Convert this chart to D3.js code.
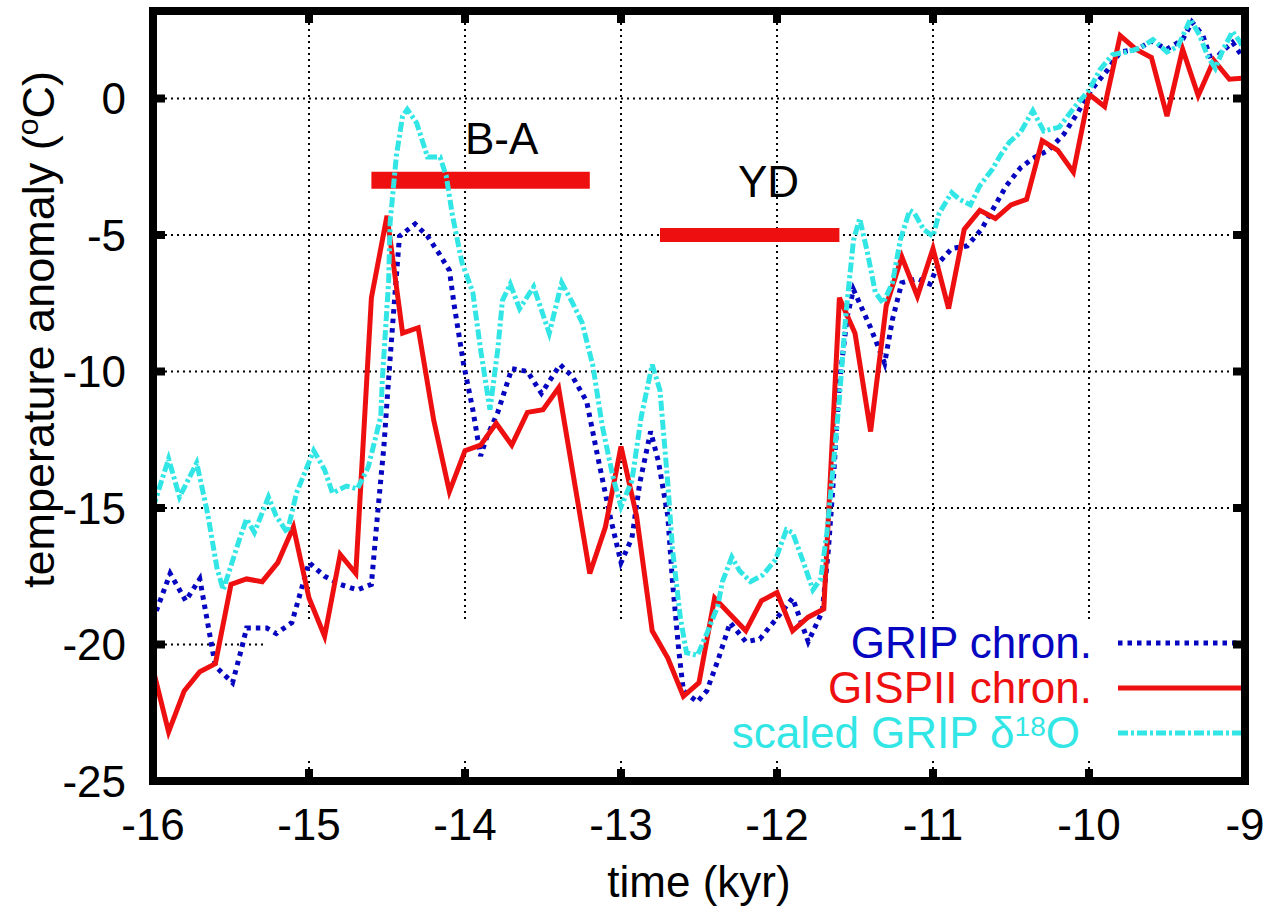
<!DOCTYPE html>
<html>
<head>
<meta charset="utf-8">
<script src="https://cdn.jsdelivr.net/npm/d3@7"></script>
<style>
  body { margin: 0; background: #fff; }
  svg text { font-family: "Liberation Sans", Arial, Helvetica, sans-serif; }
</style>
</head>
<body>
<div id="chart"></div>
<script>
// time in kyr, temperature anomaly in degC
const gispTime = [-16.0, -15.9, -15.8, -15.7, -15.6, -15.5, -15.4, -15.3, -15.2, -15.1, -15.0, -14.9, -14.8, -14.7, -14.6, -14.5, -14.4, -14.3, -14.2, -14.1, -14.0, -13.9, -13.8, -13.7, -13.6, -13.5, -13.4, -13.2, -13.1, -13.0, -12.9, -12.8, -12.7, -12.6, -12.5, -12.4, -12.3, -12.2, -12.1, -12.0, -11.9, -11.8, -11.7, -11.6, -11.5, -11.4, -11.3, -11.2, -11.1, -11.0, -10.9, -10.8, -10.7, -10.6, -10.5, -10.4, -10.3, -10.2, -10.1, -10.0, -9.9, -9.8, -9.7, -9.6, -9.5, -9.4, -9.3, -9.2, -9.1, -9.0];
const gispTemp = [-20.9, -23.2, -21.7, -21.0, -20.7, -17.8, -17.6, -17.7, -17.0, -15.7, -18.3, -19.7, -16.7, -17.4, -7.3, -4.3, -8.6, -8.4, -11.8, -14.4, -12.9, -12.7, -11.9, -12.7, -11.5, -11.4, -10.6, -17.4, -15.7, -12.75, -15.3, -19.5, -20.5, -21.9, -21.4, -18.3, -18.9, -19.5, -18.4, -18.1, -19.5, -19.0, -18.7, -7.3, -8.6, -12.2, -7.6, -5.8, -7.25, -5.5, -7.7, -4.8, -4.1, -4.4, -3.9, -3.7, -1.55, -1.9, -2.7, 0.15, -0.3, 2.3, 1.8, 1.5, -0.65, 1.8, 0.1, 1.4, 0.7, 0.75];

const gripTime = [-16.0, -15.89, -15.79, -15.7, -15.6, -15.49, -15.43, -15.4, -15.27, -15.21, -15.11, -15.0, -14.9, -14.8, -14.69, -14.6, -14.56, -14.52, -14.49, -14.46, -14.42, -14.32, -14.24, -14.17, -14.1, -14.07, -14.01, -13.95, -13.9, -13.86, -13.79, -13.7, -13.6, -13.51, -13.39, -13.31, -13.22, -13.15, -13.07, -13.0, -12.93, -12.88, -12.81, -12.76, -12.7, -12.67, -12.63, -12.6, -12.51, -12.45, -12.38, -12.3, -12.2, -12.11, -12.01, -11.9, -11.8, -11.71, -11.67, -11.64, -11.6, -11.55, -11.51, -11.4, -11.31, -11.26, -11.2, -11.1, -11.02, -10.96, -10.88, -10.78, -10.69, -10.62, -10.53, -10.44, -10.36, -10.26, -10.16, -10.07, -9.98, -9.88, -9.8, -9.69, -9.6, -9.5, -9.4, -9.34, -9.27, -9.21, -9.15, -9.08, -9.0];
const gripTemp = [-19.1, -17.4, -18.4, -17.6, -20.8, -21.4, -20.1, -19.4, -19.4, -19.6, -19.2, -17.0, -17.5, -17.8, -18.0, -17.8, -15.2, -12.75, -10.3, -8.0, -5.05, -4.6, -5.05, -5.65, -6.3, -7.55, -9.7, -11.4, -13.1, -12.4, -11.5, -9.9, -10.0, -10.8, -9.75, -10.2, -11.1, -13.1, -15.3, -17.0, -16.1, -14.1, -12.2, -13.3, -15.3, -17.7, -20.2, -21.7, -22.1, -21.7, -20.6, -19.2, -19.9, -19.8, -19.1, -18.3, -19.9, -18.8, -16.5, -14.1, -10.4, -8.0, -7.0, -8.4, -9.7, -8.1, -6.75, -6.6, -6.8, -6.0, -5.5, -5.4, -4.8, -4.1, -3.2, -2.55, -2.2, -1.9, -1.3, -0.5, 0.35, 1.05, 1.7, 1.8, 2.1, 1.8, 2.15, 2.8, 2.3, 1.3, 1.7, 2.05, 1.4];

const d18oTime = [-16.0, -15.9, -15.83, -15.72, -15.65, -15.59, -15.55, -15.44, -15.4, -15.35, -15.26, -15.21, -15.14, -15.08, -14.97, -14.9, -14.85, -14.76, -14.69, -14.62, -14.54, -14.53, -14.49, -14.48, -14.44, -14.4, -14.37, -14.31, -14.24, -14.16, -14.12, -14.08, -14.02, -13.95, -13.9, -13.84, -13.79, -13.76, -13.71, -13.65, -13.56, -13.46, -13.38, -13.31, -13.25, -13.18, -13.12, -13.05, -13.0, -12.93, -12.87, -12.8, -12.75, -12.7, -12.67, -12.62, -12.58, -12.51, -12.45, -12.38, -12.35, -12.29, -12.24, -12.17, -12.09, -12.01, -11.94, -11.9, -11.83, -11.77, -11.72, -11.68, -11.64, -11.6, -11.56, -11.51, -11.47, -11.42, -11.37, -11.32, -11.26, -11.21, -11.15, -11.12, -11.06, -11.0, -10.96, -10.88, -10.83, -10.76, -10.7, -10.62, -10.57, -10.51, -10.44, -10.36, -10.29, -10.19, -10.09, -10.0, -9.93, -9.85, -9.76, -9.67, -9.59, -9.5, -9.43, -9.35, -9.29, -9.24, -9.19, -9.14, -9.08, -9.03, -9.0];
const d18oTemp = [-15.0, -13.2, -14.6, -13.35, -15.2, -17.2, -18.0, -16.05, -15.4, -15.9, -14.6, -15.3, -15.9, -14.45, -12.9, -13.6, -14.45, -14.2, -14.3, -13.5, -11.65, -10.3, -6.75, -4.55, -2.1, -0.65, -0.4, -0.9, -2.15, -2.15, -2.85, -4.3, -6.0, -7.1, -9.2, -11.4, -9.2, -7.4, -6.8, -7.7, -6.9, -8.6, -6.75, -7.5, -8.2, -9.8, -12.0, -13.9, -14.95, -14.0, -11.65, -9.75, -10.7, -14.1, -16.5, -19.0, -20.3, -20.4, -19.6, -18.6, -17.7, -16.8, -17.3, -17.7, -17.45, -16.9, -15.8, -15.9, -17.0, -18.0, -17.6, -15.9, -13.5, -11.0, -8.0, -5.2, -4.4, -5.65, -7.1, -7.5, -6.75, -5.2, -4.1, -4.2, -4.8, -5.05, -4.2, -3.45, -3.7, -3.9, -3.2, -2.6, -2.1, -1.6, -1.25, -0.45, -1.2, -1.05, -0.3, 0.3, 1.05, 1.6, 1.7, 1.85, 2.15, 1.7, 1.9, 2.9, 2.3, 1.55, 1.1, 1.8, 2.45, 2.05, 1.6];

const xTicks = [-16, -15, -14, -13, -12, -11, -10, -9];
const yTicks = [-25, -20, -15, -10, -5, 0];

// climate periods: name, start, end, level
const periodNames = ["B-A", "YD"];
const periodStart = [-14.6, -12.75];
const periodEnd = [-13.2, -11.6];
const periodLevel = [-3.0, -5.0];
const periodLabelX = [-14.0, -12.25];
const periodLabelY = [-2.05, -3.6];

const width = 1267, height = 920;
const margin = { top: 11, right: 22, bottom: 139, left: 153 };

const blue = "#0606c0", red = "#ee1010", cyan = "#33e6e6";

const svg = d3.select("#chart").append("svg")
    .attr("width", width)
    .attr("height", height);

const x = d3.scaleLinear().domain([-16, -9]).range([margin.left, width - margin.right]);
const y = d3.scaleLinear().domain([-25, 3.2]).range([height - margin.bottom, margin.top]);

// grid (dotted)
const grid = svg.append("g");
grid.selectAll(".vgrid")
    .data(xTicks.slice(1, -1))
    .enter().append("line")
    .attr("x1", d => x(d)).attr("x2", d => x(d))
    .attr("y1", y.range()[0]).attr("y2", y.range()[1])
    .attr("stroke", "#000").attr("stroke-width", 2)
    .attr("stroke-dasharray", "2,4");
grid.selectAll(".hgrid")
    .data(yTicks.slice(1))
    .enter().append("line")
    .attr("y1", d => y(d)).attr("y2", d => y(d))
    .attr("x1", x.range()[0]).attr("x2", x.range()[1])
    .attr("stroke", "#000").attr("stroke-width", 2)
    .attr("stroke-dasharray", "2,4");

// key box is opaque: it blanks the grid behind it
svg.append("rect")
    .attr("x", 265).attr("y", 622)
    .attr("width", x(-9) - 4 - 265).attr("height", 135)
    .attr("fill", "#fff");

// period bars and labels
svg.selectAll(".period")
    .data(periodNames)
    .enter().append("line")
    .attr("x1", (d, i) => x(periodStart[i]))
    .attr("x2", (d, i) => x(periodEnd[i]))
    .attr("y1", (d, i) => y(periodLevel[i]))
    .attr("y2", (d, i) => y(periodLevel[i]))
    .attr("stroke", red)
    .attr("stroke-width", (d, i) => i === 0 ? 17 : 14);

svg.selectAll(".plabel")
    .data(periodNames)
    .enter().append("text")
    .attr("x", (d, i) => x(periodLabelX[i]))
    .attr("y", (d, i) => y(periodLabelY[i]))
    .attr("font-size", 44)
    .text(d => d);

// curves
const series = [
    { t: gripTime, v: gripTemp, color: blue, dash: "4.5,5" },
    { t: gispTime, v: gispTemp, color: red, dash: null },
    { t: d18oTime, v: d18oTemp, color: cyan, dash: "10,3,3,3" }
];

const line = d3.line()
    .x(d => x(d[0]))
    .y(d => y(d[1]));

series.forEach(s => {
    svg.append("path")
        .datum(s.t.map((t, i) => [t, s.v[i]]))
        .attr("d", line)
        .attr("fill", "none")
        .attr("stroke", s.color)
        .attr("stroke-width", 5)
        .attr("stroke-linejoin", "miter")
        .attr("stroke-dasharray", s.dash);
});

// legend
const legendY = [643, 688, 733];
series.forEach((s, i) => {
    svg.append("line")
        .attr("x1", 1118).attr("x2", x(-9) - 4)
        .attr("y1", legendY[i]).attr("y2", legendY[i])
        .attr("stroke", s.color)
        .attr("stroke-width", 5)
        .attr("stroke-dasharray", s.dash);
});
svg.append("text")
    .attr("x", 1092).attr("y", legendY[0] + 15)
    .attr("text-anchor", "end").attr("font-size", 44)
    .attr("fill", blue)
    .text("GRIP chron.");
svg.append("text")
    .attr("x", 1092).attr("y", legendY[1] + 15)
    .attr("text-anchor", "end").attr("font-size", 44)
    .attr("fill", red)
    .text("GISPII chron.");
const cyanLabel = svg.append("text")
    .attr("x", 1080).attr("y", legendY[2] + 15)
    .attr("text-anchor", "end").attr("font-size", 44)
    .attr("fill", cyan);
cyanLabel.append("tspan").text("scaled GRIP δ");
cyanLabel.append("tspan").attr("dy", -12).attr("font-size", 28).text("18");
cyanLabel.append("tspan").attr("dy", 12).text("O");

// border and ticks
const x0 = x.range()[0], x1 = x.range()[1], y0 = y.range()[0], y1 = y.range()[1];
const ticks = svg.append("g").attr("stroke", "#000").attr("stroke-width", 8);
ticks.selectAll(".xt")
    .data(xTicks.slice(1, -1))
    .enter().append("path")
    .attr("d", d => `M${x(d)},${y0}v-12M${x(d)},${y1}v12`);
ticks.selectAll(".yt")
    .data(yTicks.slice(1))
    .enter().append("path")
    .attr("d", d => `M${x0},${y(d)}h12M${x1},${y(d)}h-12`);

svg.append("rect")
    .attr("x", x0).attr("y", y1)
    .attr("width", x1 - x0).attr("height", y0 - y1)
    .attr("fill", "none")
    .attr("stroke", "#000")
    .attr("stroke-width", 8);

// tick labels
svg.selectAll(".xlab")
    .data(xTicks)
    .enter().append("text")
    .attr("x", d => x(d))
    .attr("y", 840)
    .attr("text-anchor", "middle")
    .attr("font-size", 44)
    .text(d => d);
svg.selectAll(".ylab")
    .data(yTicks)
    .enter().append("text")
    .attr("x", 126)
    .attr("y", d => y(d))
    .attr("dy", "0.36em")
    .attr("text-anchor", "end")
    .attr("font-size", 44)
    .text(d => d);

// axis titles
svg.append("text")
    .attr("x", (x0 + x1) / 2)
    .attr("y", 897)
    .attr("text-anchor", "middle")
    .attr("font-size", 44)
    .text("time (kyr)");

const ylabel = svg.append("text")
    .attr("transform", "translate(54, 588) rotate(-90)")
    .attr("text-anchor", "start")
    .attr("font-size", 45);
ylabel.append("tspan").text("temperature anomaly (");
ylabel.append("tspan").attr("dy", -16).attr("font-size", 30).text("o");
ylabel.append("tspan").attr("dy", 16).text("C)");
</script>
</body>
</html>
